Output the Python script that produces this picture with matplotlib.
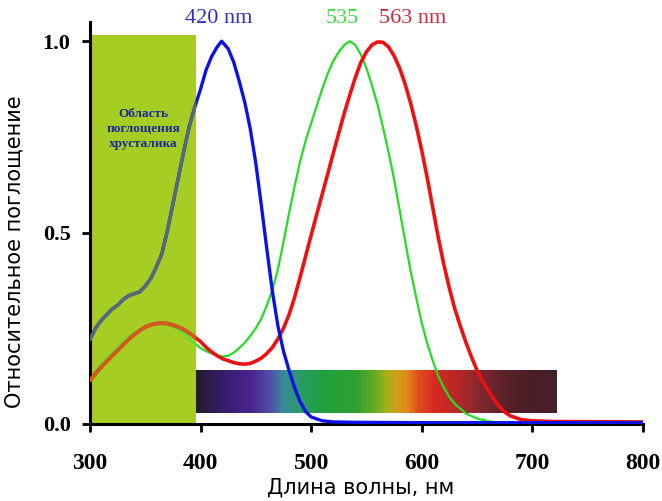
# кривые поглощения колбочек (S, M, L) и область поглощения хрусталика
import numpy as np
import matplotlib
matplotlib.use('Agg')
import matplotlib.pyplot as plt
from matplotlib.colors import LinearSegmentedColormap
from matplotlib.patches import Rectangle

# данные
s_nm = [300, 305, 310, 315, 320, 325, 330, 335, 340, 345, 350, 355, 360, 365, 370, 375, 380, 385,
        390, 395, 400, 405, 410, 415, 419, 425, 430, 435, 440, 445, 450, 455, 460, 465, 470, 475,
        480, 485, 490, 495, 500, 510, 520, 540, 600, 700, 800]
s_val = [0.22, 0.25, 0.27, 0.285, 0.30, 0.31, 0.325, 0.335, 0.34, 0.345, 0.36, 0.38, 0.41, 0.445,
         0.505, 0.575, 0.645, 0.715, 0.78, 0.83, 0.875, 0.925, 0.96, 0.985, 1.0, 0.98, 0.945, 0.895,
         0.84, 0.77, 0.68, 0.57, 0.455, 0.345, 0.255, 0.19, 0.14, 0.095, 0.058, 0.032, 0.018, 0.008,
         0.005, 0.004, 0.003, 0.003, 0.003]

m_nm = [300, 305, 310, 315, 320, 325, 330, 335, 340, 345, 350, 355, 360, 365, 370, 375, 380, 385,
        390, 395, 400, 405, 410, 415, 420, 425, 430, 435, 440, 445, 450, 455, 460, 465, 470, 475,
        480, 485, 490, 495, 500, 505, 510, 515, 520, 525, 530, 535, 540, 545, 550, 555, 560, 565,
        570, 575, 580, 585, 590, 595, 600, 605, 610, 615, 620, 625, 630, 640, 650, 660, 670, 680]
m_val = [0.115, 0.135, 0.155, 0.17, 0.185, 0.2, 0.215, 0.227, 0.237, 0.245, 0.252, 0.258, 0.262,
         0.263, 0.26, 0.253, 0.245, 0.235, 0.222, 0.21, 0.198, 0.19, 0.184, 0.179, 0.176, 0.178,
         0.186, 0.198, 0.212, 0.23, 0.25, 0.275, 0.31, 0.35, 0.405, 0.475, 0.55, 0.62, 0.685, 0.74,
         0.785, 0.83, 0.875, 0.915, 0.948, 0.972, 0.99, 1.0, 0.99, 0.965, 0.93, 0.885, 0.835, 0.775,
         0.71, 0.64, 0.56, 0.478, 0.4, 0.33, 0.265, 0.21, 0.165, 0.125, 0.095, 0.07, 0.052,
         0.027, 0.014, 0.007, 0.003, 0.001]

l_nm = [300, 305, 310, 315, 320, 325, 330, 335, 340, 345, 350, 355, 360, 365, 370, 375, 380, 385,
        390, 395, 400, 405, 410, 415, 420, 425, 430, 435, 440, 445, 450, 455, 460, 465, 470, 475,
        480, 485, 490, 495, 500, 505, 510, 515, 520, 525, 530, 535, 540, 545, 550, 555, 560, 565,
        570, 575, 580, 585, 590, 595, 600, 605, 610, 615, 620, 625, 630, 635, 640, 645, 650, 655,
        660, 665, 670, 675, 680, 690, 700, 720, 800]
l_val = [0.113, 0.132, 0.148, 0.163, 0.178, 0.192, 0.207, 0.221, 0.233, 0.244, 0.253, 0.259, 0.262,
         0.263, 0.262, 0.258, 0.253, 0.246, 0.237, 0.226, 0.215, 0.2, 0.188, 0.178, 0.17, 0.165,
         0.16, 0.157, 0.156, 0.158, 0.164, 0.172, 0.184, 0.2, 0.222, 0.25, 0.285, 0.33, 0.383,
         0.438, 0.493, 0.547, 0.6, 0.653, 0.707, 0.76, 0.812, 0.86, 0.905, 0.945, 0.972, 0.99, 0.998,
         0.997, 0.985, 0.962, 0.93, 0.888, 0.838, 0.78, 0.715, 0.643, 0.565, 0.487, 0.417, 0.355, 0.3,
         0.255, 0.213, 0.175, 0.14, 0.112, 0.087, 0.065, 0.046, 0.031, 0.021, 0.011, 0.008, 0.006, 0.005]

# область хрусталика и полоса спектра (нм)
lens_nm = (300, 395.5)
spec_nm = (395.5, 721.6)

# подписи пиков
peaks = [(416, '420 nm', '#2e2ec8'), (528, '535', '#3fdc3f'), (592, '563 nm', '#c8283a')]

serif = 'Liberation Serif'

fig = plt.figure(figsize=(6.62, 5.01), dpi=100)
ax = fig.add_axes([0.136, 0.154, 0.835, 0.802])

# зелёный прямоугольник
lens = Rectangle((lens_nm[0], 0), lens_nm[1] - lens_nm[0], 1.016, facecolor='#a5cd23',
                 edgecolor='none', zorder=1)
ax.add_patch(lens)

# полоса спектра
cmap = LinearSegmentedColormap.from_list('spec', [
    (0.00, '#261a2e'), (0.08, '#3a1e70'), (0.15, '#4a2590'), (0.205, '#5050a8'),
    (0.24, '#3a8a9a'), (0.285, '#2a9a6a'), (0.35, '#20a040'), (0.445, '#30a030'),
    (0.50, '#6aae20'), (0.53, '#a8b018'), (0.555, '#d0a020'), (0.585, '#e08a18'),
    (0.615, '#e05020'), (0.66, '#d82a20'), (0.735, '#b02828'), (0.79, '#80282e'),
    (0.865, '#582028'), (0.94, '#4a1e26'), (1.00, '#46202a')])
grad = np.linspace(0, 1, 400).reshape(1, -1)
ax.imshow(grad, cmap=cmap, aspect='auto', extent=[spec_nm[0], spec_nm[1], 0.029, 0.141],
          zorder=2, interpolation='bilinear')

# кривые
kw = dict(solid_joinstyle='round', solid_capstyle='round')
ax.plot(m_nm, m_val, color='#22dd22', lw=1.6, zorder=3, **kw)
ax.plot(l_nm, l_val, color='#ee1111', lw=2.6, zorder=4, **kw)
ax.plot(s_nm, s_val, color='#0c12e6', lw=2.4, zorder=5, **kw)

# внутри области хрусталика цвета другие
g_in, = ax.plot(m_nm, m_val, color='#66e040', lw=1.6, zorder=3.1, **kw)
r_in, = ax.plot(l_nm, l_val, color='#cf5c1c', lw=2.6, zorder=4.1, **kw)
b_in, = ax.plot(s_nm, s_val, color='#566a7a', lw=2.4, zorder=5.1, **kw)
for ln in (g_in, r_in, b_in):
    ln.set_clip_path(lens)

ax.text(348, 0.77, 'Область\nпоглощения\nхрусталика', ha='center', va='center',
        fontfamily=serif, fontweight='bold', fontsize=9.5, color='#1c2a96', linespacing=1.35,
        zorder=6)

for x, txt, c in peaks:
    ax.text(x, 1.058, txt, ha='center', va='center', fontfamily=serif, fontsize=16, color=c)

ax.set_xlim(300, 800)
ax.set_ylim(0, 1.05)
ax.set_xticks([300, 400, 500, 600, 700, 800])
ax.set_yticks([0, 0.5, 1.0])
ax.set_yticklabels(['0.0', '0.5', '1.0'])
for lab in ax.get_xticklabels() + ax.get_yticklabels():
    lab.set_fontfamily(serif)
    lab.set_fontweight('bold')
for lab in ax.get_xticklabels():
    lab.set_fontsize(17)
for lab in ax.get_yticklabels():
    lab.set_fontsize(16)
ax.tick_params(axis='x', direction='out', length=6, width=2, pad=15)
ax.tick_params(axis='y', direction='out', length=6, width=2, pad=8)
ax.spines['top'].set_visible(False)
ax.spines['right'].set_visible(False)
ax.spines['left'].set_linewidth(2.2)
ax.spines['bottom'].set_linewidth(2.2)

ax.set_xlabel('Длина волны, нм', fontsize=15)
ax.set_ylabel('Относительное поглощение', fontsize=15)
ax.xaxis.set_label_coords(0.49, -0.135)
ax.yaxis.set_label_coords(-0.118, 0.428)

fig.savefig('out.png', dpi=100)
